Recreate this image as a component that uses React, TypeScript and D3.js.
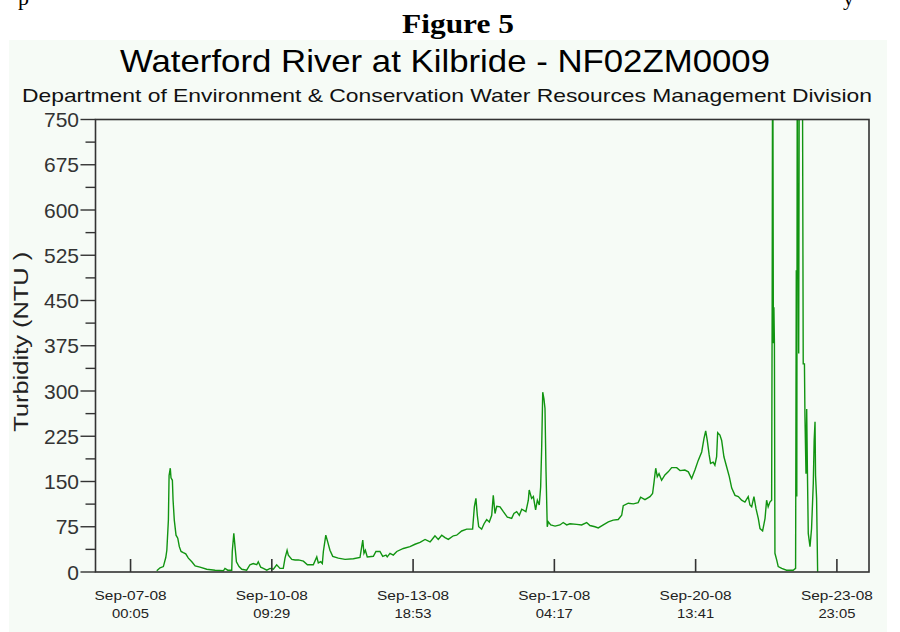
import React from 'react';
import * as d3 from 'd3';

// Series start reference (first labelled tick)
const START = new Date(2008, 8, 7, 0, 5);

// Hours elapsed since START for each reading
const hours = [
  15.1, 17.0, 18.9, 20.3, 20.9, 21.8, 22.2, 22.9, 23.3, 24.1, 24.5, 25.2, 26.2, 27.2, 28.1, 29.1,
  30.4, 31.8, 33.3, 35.3, 37.2, 40.0, 43.9, 48.7, 53.5, 54.4, 56.0, 58.3, 58.6, 59.5, 60.2, 61.0,
  62.5, 64.1, 66.9, 68.8, 70.7, 72.7, 73.6, 75.0, 76.5, 78.5, 80.4, 82.3, 84.2, 86.1, 88.0, 89.0,
  90.2, 90.9, 92.9, 94.8, 96.7, 99.6, 101.9, 105.3, 107.3, 108.2, 109.6, 110.5, 111.1, 112.5,
  113.6, 114.9, 116.5, 119.7, 123.6, 128.4, 132.2, 133.8, 134.5, 135.3, 136.4, 139.9, 141.4,
  143.7, 145.3, 147.2, 147.9, 149.5, 151.4, 153.4, 157.2, 161.0, 163.9, 166.8, 169.7, 172.6,
  173.5, 175.4, 177.3, 179.3, 181.2, 183.1, 186.0, 187.9, 190.8, 193.7, 197.1, 198.1, 199.0,
  199.8, 200.6, 202.3, 203.7, 205.2, 206.7, 208.1, 209.0, 210.0, 211.0, 212.9, 214.8, 217.1,
  219.6, 220.9, 222.5, 224.0, 225.4, 227.8, 229.2, 229.7, 231.1, 232.1, 233.4, 234.4, 235.5,
  236.3, 236.9, 237.5, 238.2, 238.8, 239.4, 240.1, 240.7, 242.1, 244.6, 247.4, 249.3, 251.3,
  253.2, 257.1, 259.9, 262.8, 264.7, 267.6, 269.5, 272.4, 275.3, 278.1, 281.0, 283.0, 283.9,
  286.8, 289.7, 292.5, 293.9, 296.4, 299.3, 300.8, 301.6, 302.6, 303.5, 304.5, 306.0, 307.9,
  309.8, 311.8, 314.7, 316.6, 319.4, 321.4, 323.3, 325.2, 327.1, 329.1, 330.4, 331.4, 332.3,
  333.4, 334.2, 335.7, 336.7, 337.7, 338.3, 339.6, 340.6, 341.9, 343.5, 345.0, 346.4, 348.3,
  350.2, 352.1, 354.0, 355.9, 356.9, 357.9, 359.2, 360.4, 361.7, 362.7, 364.2, 365.6, 366.5,
  367.4, 368.4, 369.4, 369.7, 370.0, 370.4, 370.7, 371.0, 371.3, 372.3, 373.2, 375.2, 378.0,
  381.8, 383.2, 383.6, 383.9, 384.2, 384.4, 384.7, 385.0, 385.4, 387.0, 387.6, 388.3, 388.6,
  389.2, 389.6, 390.0, 390.5, 391.5, 392.4, 393.4, 393.9, 394.4, 394.7, 395.3, 395.9,
];

// Turbidity readings (NTU)
const ntu = [
  2, 7, 9, 24, 36, 86, 160, 172, 156, 152, 119, 86, 61, 56, 42, 34,
  32, 30, 23, 17, 10, 8, 4.5, 3, 2, 6, 3, 3, 34, 64, 42, 17,
  9, 4.5, 3, 12, 14, 12, 17, 8, 6, 3, 6, 4.5, 12, 6, 6, 23,
  36, 28, 21, 20, 20, 18, 12, 12, 25, 15, 17, 14, 34, 61,
  50, 36, 26, 23, 21, 22, 24, 53, 31, 36, 25, 26, 34,
  34, 26, 28, 25, 31, 28, 34, 39, 42, 46, 49, 54, 50,
  53, 60, 54, 61, 57, 54, 60, 61, 68, 71, 71, 108, 122,
  94, 75, 71, 80, 87, 83, 94, 127, 97, 109, 108, 100, 91,
  89, 97, 100, 94, 104, 100, 119, 136, 122, 125, 103, 119, 111,
  141, 207, 298, 287, 271, 166, 75, 83, 78, 76, 78, 82, 78,
  80, 79, 78, 82, 77, 75, 73, 78, 83, 86, 87, 94, 110,
  114, 113, 115, 124, 120, 125, 130, 148, 172, 158, 163, 152, 161,
  166, 173, 173, 168, 169, 166, 155, 169, 185, 199, 221, 234, 218,
  194, 180, 182, 177, 191, 231, 227, 218, 191, 174, 158, 139, 127,
  125, 119, 116, 125, 111, 108, 125, 105, 89, 72, 68, 89, 119,
  108, 116, 119, 439, 1000, 379, 439, 379, 31, 20, 9, 6, 3,
  3, 6, 500, 125, 1000, 561, 600, 362, 1000, 1000, 345, 345, 257,
  163, 270, 170, 64, 42, 72, 147, 218, 249, 160, 122, 0,
];

// Labelled x-axis ticks
const xTickTimes = [
  '2008-09-07T00:05', '2008-09-10T09:29', '2008-09-13T18:53',
  '2008-09-17T04:17', '2008-09-20T13:41', '2008-09-23T23:05',
];

const yTicks = [0, 75, 150, 225, 300, 375, 450, 525, 600, 675, 750];
const yMinorTicks = [37.5, 112.5, 187.5, 262.5, 337.5, 412.5, 487.5, 562.5, 637.5, 712.5];

const X_DOMAIN = ['2008-09-06T03:53', '2008-09-24T17:35'];

const TITLE = 'Waterford River at Kilbride - NF02ZM0009';
const SUBTITLE = 'Department of Environment & Conservation Water Resources Management Division';
const Y_TITLE = 'Turbidity (NTU )';

export default function App() {
  const W = 900, H = 632;
  const left = 95.5, right = 869, top = 119.5, bottom = 572;
  const parse = d3.timeParse('%Y-%m-%dT%H:%M');
  const x = d3.scaleTime()
    .domain([parse(X_DOMAIN[0])!, parse(X_DOMAIN[1])!])
    .range([left, right]);
  const y = d3.scaleLinear().domain([0, 750]).range([bottom, top]);

  const data = hours.map((h, i) => ({ t: new Date(START.getTime() + h * 3600e3), v: ntu[i] }));
  const line = d3.line<{ t: Date; v: number }>()
    .x(d => x(d.t))
    .y(d => y(d.v));

  const fmtD = d3.timeFormat('%b-%d-%y');
  const fmtT = d3.timeFormat('%H:%M');
  const sans = 'Liberation Sans, Arial, sans-serif';

  return (
    <svg width={W} height={H} style={{ position: 'absolute', left: 0, top: 0, background: '#fff' }}>
      <rect x={0} y={0} width={W} height={H} fill="#ffffff" />
      {/* fragment of document text above the figure */}
      <text x={18} y={5} fontFamily="Liberation Serif, serif" fontSize={22}>p</text>
      <text x={843} y={5} fontFamily="Liberation Serif, serif" fontSize={22}>y</text>
      <text x={458} y={33} textAnchor="middle" fontFamily="Liberation Serif, serif" fontWeight="bold" fontSize={28}
        textLength={112} lengthAdjust="spacingAndGlyphs">Figure 5</text>

      <rect x={9} y={40} width={878} height={592} fill="#f6fbf6" />

      <text x={445} y={72} textAnchor="middle" fontFamily={sans} fontSize={32}
        textLength={650} lengthAdjust="spacingAndGlyphs" fill="#000">{TITLE}</text>
      <text x={447} y={102} textAnchor="middle" fontFamily={sans} fontSize={18.5}
        textLength={850} lengthAdjust="spacingAndGlyphs" fill="#111">{SUBTITLE}</text>

      <text transform={`translate(28,${(top + bottom) / 2 - 4}) rotate(-90)`} textAnchor="middle"
        fontFamily={sans} fontSize={20} fill="#222" textLength={180} lengthAdjust="spacingAndGlyphs">{Y_TITLE}</text>

      <defs>
        <clipPath id="plotclip">
          <rect x={left} y={top} width={right - left} height={bottom - top} />
        </clipPath>
      </defs>

      <path d={line(data) || ''} fill="none" stroke="#119411" strokeWidth={1.4}
        strokeLinejoin="miter" clipPath="url(#plotclip)" />

      {/* frame */}
      <rect x={left} y={top} width={right - left} height={bottom - top} fill="none" stroke="#333" strokeWidth={1.6} />

      {/* y ticks */}
      {yTicks.map(v => (
        <g key={v}>
          <line x1={left - 15} x2={left} y1={y(v)} y2={y(v)} stroke="#333" strokeWidth={1.4} />
          <text x={79} y={y(v)} dy="0.36em" textAnchor="end" fontFamily={sans} fontSize={21} fill="#333">{v}</text>
        </g>
      ))}
      {yMinorTicks.map(v => (
        <line key={v} x1={left - 10} x2={left} y1={y(v)} y2={y(v)} stroke="#333" strokeWidth={1.4} />
      ))}

      {/* x ticks */}
      {xTickTimes.map(s => {
        const d = parse(s)!;
        const px = x(d);
        return (
          <g key={s}>
            <line x1={px} x2={px} y1={bottom} y2={bottom - 13} stroke="#333" strokeWidth={1.6} />
            <text x={px} y={600} textAnchor="middle" fontFamily={sans} fontSize={13.5} fill="#222"
              textLength={72} lengthAdjust="spacingAndGlyphs">{fmtD(d)}</text>
            <text x={px} y={618} textAnchor="middle" fontFamily={sans} fontSize={13.5} fill="#222"
              textLength={37} lengthAdjust="spacingAndGlyphs">{fmtT(d)}</text>
          </g>
        );
      })}
    </svg>
  );
}
